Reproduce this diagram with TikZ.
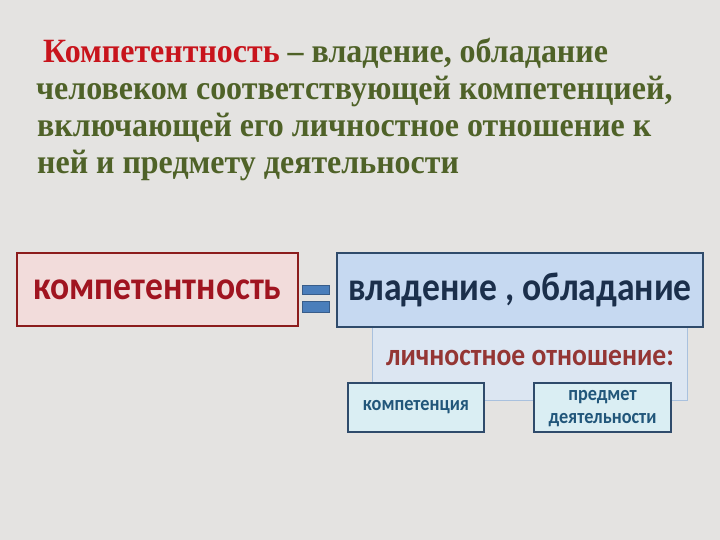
\documentclass[tikz,border=0pt]{standalone}
\usepackage{fontspec}
\setmainfont{Liberation Serif}
\newfontfamily\titlefont[FakeStretch=0.94]{Liberation Serif}
\newfontfamily\boxfont[FakeStretch=0.89]{Carlito}
\usetikzlibrary{calc}

\definecolor{bgGray}{HTML}{E4E3E1}
\definecolor{titleRed}{HTML}{C8141C}
\definecolor{titleGreen}{HTML}{4F6228}
\definecolor{pinkFill}{HTML}{F2DCDB}
\definecolor{pinkLine}{HTML}{8C1C1C}
\definecolor{pinkText}{HTML}{A01420}
\definecolor{blueFill}{HTML}{C6D9F1}
\definecolor{blueLine}{HTML}{2F4B6B}
\definecolor{blueText}{HTML}{1B2F4B}
\definecolor{paleFill}{HTML}{DCE6F2}
\definecolor{paleLine}{HTML}{A9C1DE}
\definecolor{brownText}{HTML}{943634}
\definecolor{cyanFill}{HTML}{DAEEF3}
\definecolor{cyanText}{HTML}{21567A}
\definecolor{eqBlue}{HTML}{4A7EBB}
\definecolor{eqLine}{HTML}{385D8A}

\begin{document}
\begin{tikzpicture}[x=1pt, y=-1pt, line join=miter,
		titleline/.style={anchor=base west, inner sep=0pt, text=titleGreen,
			font=\titlefont\bfseries\fontsize{34}{37}\selectfont},
		bigbox/.style={draw, line width=1.6pt, inner sep=0pt,
			font=\boxfont\bfseries\fontsize{40}{44}\selectfont},
		smallbox/.style={draw=blueLine, fill=cyanFill, line width=1.5pt, inner sep=0pt,
			minimum width=136pt, minimum height=49pt, text=cyanText, align=center,
			font=\boxfont\bfseries\fontsize{20.5}{24}\selectfont},
		eqbar/.style={fill=eqBlue, draw=eqLine, line width=0.6pt}]
		
		% ===== background =====
		\fill[bgGray] (0,0) rectangle (720,540);
		\useasboundingbox (0,0) rectangle (720,540);
		
		% ===== definition text =====
		\node[titleline] (title1) at (43,63) {\textcolor{titleRed}{Компетентность} – владение, обладание};
		\node[titleline] (title2) at (36,100) {человеком соответствующей компетенцией,};
		\node[titleline] (title3) at (37,137) {включающей его личностное отношение к};
		\node[titleline] (title4) at (37,174) {ней и предмету деятельности};
		
		% ===== left: the term =====
		\node[bigbox, draw=pinkLine, fill=pinkFill, text=pinkText,
		minimum width=281pt, minimum height=73pt] (term) at (157.5,289.5) {\raisebox{-3pt}{компетентность}};
		
		% equals sign
		\draw[eqbar] (302,285) rectangle (329,294);
		\draw[eqbar] (302,301) rectangle (329,312);
		
		% ===== right: what it means =====
		% pale box behind
		\draw[fill=paleFill, draw=paleLine, line width=1pt] (372,318) rectangle (687,400);
		\node[text=brownText, font=\boxfont\bfseries\fontsize{31}{34}\selectfont] (attitude) at (530,358) {личностное отношение:};
		
		\node[bigbox, draw=blueLine, fill=blueFill, text=blueText,
		minimum width=366pt, minimum height=74pt] (owning) at (520,290) {\raisebox{-2pt}{владение , обладание}};
		
		% small boxes
		\node[smallbox] (competence) at (416,407.5) {компетенция};
		\node[smallbox, minimum width=137pt] (subject) at (602.5,407.5) {\raisebox{-2pt}{\begin{tabular}{@{}c@{}}предмет\\[-1pt]деятельности\end{tabular}}};
		
	\end{tikzpicture}
\end{document}
